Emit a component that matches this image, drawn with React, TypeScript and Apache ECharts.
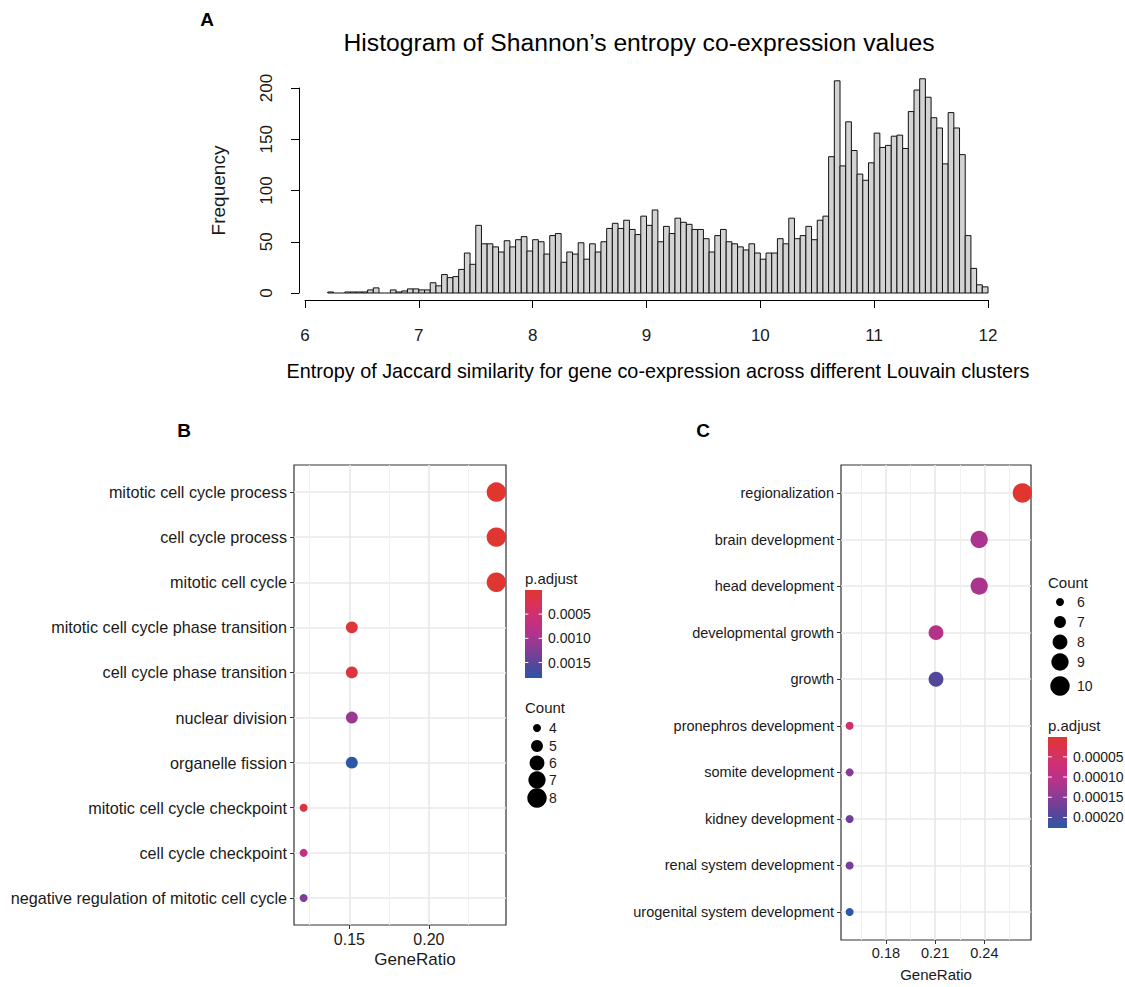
import React, { useEffect, useRef } from 'react';
import * as echarts from 'echarts';

// ---------- Panel A: histogram ----------
const histStart = 6.2;
const histBinWidth = 0.05;
const histCounts = [
  1, 0, 0, 1, 1, 1, 1, 3, 5, 0, 0, 3, 1, 2, 4, 4,
  3, 3, 10, 7, 18, 15, 16, 23, 39, 28,
  66, 48, 48, 45, 40, 51, 45, 52, 55, 41,
  52, 50, 38, 56, 58, 30, 40, 38, 49, 33,
  48, 40, 50, 63, 68, 63, 71, 62, 57, 75,
  66, 81, 50, 65, 58, 73, 69, 67, 62, 62,
  53, 40, 56, 62, 50, 48, 45, 42, 48, 39,
  33, 39, 39, 53, 48, 73, 53, 56, 65, 52,
  71, 75, 133, 207, 124, 167, 139, 116, 110, 127,
  156, 142, 144, 153, 154, 141, 177, 198, 209, 191,
  171, 161, 126, 176, 161, 135, 56, 24, 8, 6,
];
const histTitle = 'Histogram of Shannon\u2019s entropy co-expression values';
const histXTitle = 'Entropy of Jaccard similarity for gene co-expression across different Louvain clusters';
const histYTitle = 'Frequency';

// ---------- Panel B ----------
const termsB = [
  'mitotic cell cycle process',
  'cell cycle process',
  'mitotic cell cycle',
  'mitotic cell cycle phase transition',
  'cell cycle phase transition',
  'nuclear division',
  'organelle fission',
  'mitotic cell cycle checkpoint',
  'cell cycle checkpoint',
  'negative regulation of mitotic cell cycle',
];
const geneRatioB = ['8/33', '8/33', '8/33', '5/33', '5/33', '5/33', '5/33', '4/33', '4/33', '4/33'];
const padjB = [1.1e-6, 2.4e-5, 1.9e-5, 8.6e-5, 9.5e-5, 1.09e-3, 1.82e-3, 1.31e-4, 6.9e-4, 1.27e-3];
const countBreaksB = [4, 5, 6, 7, 8];
const padjTicksB = [0.0005, 0.001, 0.0015];
const ratioTicksB = [0.15, 0.2];

// ---------- Panel C ----------
const termsC = [
  'regionalization',
  'brain development',
  'head development',
  'developmental growth',
  'growth',
  'pronephros development',
  'somite development',
  'kidney development',
  'renal system development',
  'urogenital system development',
];
const geneRatioC = ['10/38', '9/38', '9/38', '8/38', '8/38', '6/38', '6/38', '6/38', '6/38', '6/38'];
const padjC = [1.0e-6, 1.18e-4, 1.18e-4, 1.08e-4, 1.96e-4, 6.2e-5, 1.52e-4, 1.72e-4, 1.66e-4, 2.26e-4];
const countBreaksC = [6, 7, 8, 9, 10];
const padjTicksC = [0.00005, 0.0001, 0.00015, 0.0002];
const ratioTicksC = [0.18, 0.21, 0.24];

// ---------- styling ----------
const FONT = '"Liberation Sans", Arial, Helvetica, sans-serif';
const TXT = '#1a1a1a';
const padjColors = ['#E0362F', '#D8325A', '#CB2F7A', '#B0348C', '#873C96', '#5A4599', '#2C56A6'];

const parseRatio = (s: string) => {
  const [a, b] = s.split('/').map(Number);
  return a / b;
};
const parseCount = (s: string) => Number(s.split('/')[0]);

function dotSize(count: number, cmin: number, cmax: number) {
  const r0 = 4;
  const r1 = 9.7;
  const t = cmax > cmin ? (count - cmin) / (cmax - cmin) : 0;
  return 2 * Math.sqrt(r0 * r0 + t * (r1 * r1 - r0 * r0));
}

function buildPanel(terms: string[], ratios: string[], padj: number[]) {
  const data = terms.map((_, i) => [parseRatio(ratios[i]), i, parseCount(ratios[i]), padj[i]]);
  const xs = data.map((d) => d[0]);
  const lo = Math.min(...xs);
  const hi = Math.max(...xs);
  const pad = (hi - lo) * 0.05;
  const counts = data.map((d) => d[2]);
  return {
    data,
    xmin: lo - pad,
    xmax: hi + pad,
    cmin: Math.min(...counts),
    cmax: Math.max(...counts),
    pmin: Math.min(...padj),
    pmax: Math.max(...padj),
  };
}

function gradient() {
  return new echarts.graphic.LinearGradient(
    0, 0, 0, 1,
    padjColors.map((c, i) => ({ offset: i / (padjColors.length - 1), color: c }))
  );
}

function colorbar(
  x: number, y: number, w: number, h: number,
  title: string, titleY: number,
  ticks: number[], pmin: number, pmax: number, digits: number, labelX: number
) {
  const els: any[] = [
    { type: 'text', x, y: titleY, style: { text: title, fontFamily: FONT, fontSize: 15, fill: TXT, align: 'left', verticalAlign: 'middle' } },
    { type: 'rect', shape: { x, y, width: w, height: h }, style: { fill: gradient() } },
  ];
  ticks.forEach((t) => {
    const ty = y + ((t - pmin) / (pmax - pmin)) * h;
    els.push({ type: 'line', shape: { x1: x, y1: ty, x2: x + w * 0.2, y2: ty }, style: { stroke: '#fff', lineWidth: 1 } });
    els.push({ type: 'line', shape: { x1: x + w * 0.8, y1: ty, x2: x + w, y2: ty }, style: { stroke: '#fff', lineWidth: 1 } });
    els.push({ type: 'text', x: labelX, y: ty, style: { text: t.toFixed(digits), fontFamily: FONT, fontSize: 14, fill: TXT, align: 'left', verticalAlign: 'middle' } });
  });
  return els;
}

function countLegend(
  titleX: number, titleY: number, dotX: number, dotYs: number[],
  breaks: number[], cmin: number, cmax: number, labelX: number
) {
  const els: any[] = [
    { type: 'text', x: titleX, y: titleY, style: { text: 'Count', fontFamily: FONT, fontSize: 15, fill: TXT, align: 'left', verticalAlign: 'middle' } },
  ];
  breaks.forEach((b, i) => {
    els.push({ type: 'circle', shape: { cx: dotX, cy: dotYs[i], r: dotSize(b, cmin, cmax) / 2 }, style: { fill: '#000' } });
    els.push({ type: 'text', x: labelX, y: dotYs[i], style: { text: String(b), fontFamily: FONT, fontSize: 14, fill: TXT, align: 'left', verticalAlign: 'middle' } });
  });
  return els;
}

export default function App() {
  const ref = useRef<HTMLDivElement>(null);

  useEffect(() => {
    if (!ref.current) return;
    const chart = echarts.init(ref.current, null, { renderer: 'svg', width: 1125, height: 987 });

    const histData = histCounts.map((c, i) => [
      histStart + i * histBinWidth,
      histStart + (i + 1) * histBinWidth,
      c,
    ]);

    const B = buildPanel(termsB, geneRatioB, padjB);
    const C = buildPanel(termsC, geneRatioC, padjC);

    const catAxis = (gridIndex: number, terms: string[], fontSize: number, margin: number) => ({
      gridIndex,
      type: 'value',
      min: -0.6,
      max: terms.length - 0.4,
      inverse: true,
      axisLine: { show: false, onZero: false },
      axisTick: { show: true, length: 4, lineStyle: { color: '#333' }, customValues: terms.map((_, i) => i) },
      axisLabel: {
        customValues: terms.map((_, i) => i),
        formatter: (v: number) => terms[Math.round(v)] ?? '',
        fontSize,
        color: TXT,
        fontFamily: FONT,
        margin,
      },
      splitLine: { show: true, lineStyle: { color: '#e8e8e8', width: 1.6 } },
    });

    const ratioAxis = (
      gridIndex: number, panel: any, ticks: number[], splitNumber: number,
      fontSize: number, margin: number, nameGap: number, nameSize: number, namePad: number[]
    ) => ({
      gridIndex,
      type: 'value',
      position: 'bottom',
      min: panel.xmin,
      max: panel.xmax,
      splitNumber,
      axisLine: { show: false, onZero: false },
      axisTick: { show: true, length: 4, lineStyle: { color: '#333' }, customValues: ticks },
      axisLabel: {
        customValues: ticks,
        formatter: (v: number) => v.toFixed(2),
        fontSize,
        color: TXT,
        fontFamily: FONT,
        margin,
      },
      splitLine: { show: true, lineStyle: { color: '#e8e8e8', width: 1.6 } },
      minorTick: { show: false, splitNumber: 2 },
      minorSplitLine: { show: true, lineStyle: { color: '#f0f0f0', width: 1 } },
      name: 'GeneRatio',
      nameLocation: 'middle',
      nameGap,
      nameTextStyle: { fontSize: nameSize, color: TXT, fontFamily: FONT, padding: namePad },
    });

    const option: any = {
      animation: false,
      backgroundColor: '#ffffff',
      textStyle: { fontFamily: FONT },
      grid: [
        { left: 305, top: 88, width: 683, height: 205 },
        { left: 294, top: 465, width: 212, height: 460, show: true, borderColor: '#333', borderWidth: 1.2, backgroundColor: '#fff' },
        { left: 841, top: 465, width: 190, height: 475, show: true, borderColor: '#333', borderWidth: 1.2, backgroundColor: '#fff' },
      ],
      xAxis: [
        {
          gridIndex: 0,
          type: 'value',
          min: 6,
          max: 12,
          interval: 1,
          offset: 7,
          axisLine: { show: true, onZero: false, lineStyle: { color: '#000', width: 1 } },
          axisTick: { show: true, length: 8, lineStyle: { color: '#000' } },
          axisLabel: { fontSize: 17, color: TXT, margin: 27, fontFamily: FONT },
          splitLine: { show: false },
        },
        ratioAxis(1, B, ratioTicksB, 2, 16, 6, 26, 17, [0, 0, 0, 30]),
        ratioAxis(2, C, ratioTicksC, 4, 14.5, 5, 27, 15, [0, 0, 0, 0]),
      ],
      yAxis: [
        {
          gridIndex: 0,
          type: 'value',
          min: 0,
          max: 200,
          interval: 50,
          offset: 6,
          axisLine: { show: true, onZero: false, lineStyle: { color: '#000', width: 1 } },
          axisTick: { show: true, length: 8, lineStyle: { color: '#000' } },
          axisLabel: { rotate: 90, fontSize: 17, color: TXT, margin: 24, fontFamily: FONT },
          splitLine: { show: false },
          name: histYTitle,
          nameLocation: 'middle',
          nameRotate: 90,
          nameGap: 71,
          nameTextStyle: { fontSize: 19, color: TXT, fontFamily: FONT },
        },
        catAxis(1, termsB, 16.2, 7),
        catAxis(2, termsC, 14.5, 7),
      ],
      visualMap: [
        { type: 'continuous', show: false, seriesIndex: 1, dimension: 3, min: B.pmin, max: B.pmax, inRange: { color: padjColors } },
        { type: 'continuous', show: false, seriesIndex: 2, dimension: 3, min: C.pmin, max: C.pmax, inRange: { color: padjColors } },
      ],
      series: [
        {
          type: 'custom',
          xAxisIndex: 0,
          yAxisIndex: 0,
          clip: false,
          encode: { x: [0, 1], y: 2 },
          data: histData,
          renderItem: (params: any, api: any) => {
            const x0 = api.value(0);
            const x1 = api.value(1);
            const c = api.value(2);
            const pTop = api.coord([x0, c]);
            const pBot = api.coord([x1, 0]);
            if (c <= 0) {
              return {
                type: 'line',
                shape: { x1: pTop[0], y1: pBot[1], x2: pBot[0], y2: pBot[1] },
                style: { stroke: '#111', lineWidth: 1 },
              };
            }
            return {
              type: 'rect',
              shape: { x: pTop[0], y: pTop[1], width: pBot[0] - pTop[0], height: pBot[1] - pTop[1] },
              style: { fill: '#d3d3d3', stroke: '#111', lineWidth: 1 },
            };
          },
        },
        {
          type: 'scatter',
          xAxisIndex: 1,
          yAxisIndex: 1,
          data: B.data,
          symbolSize: (v: number[]) => dotSize(v[2], B.cmin, B.cmax),
          itemStyle: { opacity: 1 },
          z: 5,
        },
        {
          type: 'scatter',
          xAxisIndex: 2,
          yAxisIndex: 2,
          data: C.data,
          symbolSize: (v: number[]) => dotSize(v[2], C.cmin, C.cmax),
          itemStyle: { opacity: 1 },
          z: 5,
        },
      ],
      graphic: [
        { type: 'text', x: 207, y: 19, style: { text: 'A', fontFamily: FONT, fontSize: 19, fontWeight: 'bold', fill: '#000', align: 'center', verticalAlign: 'middle' } },
        { type: 'text', x: 639, y: 42, style: { text: histTitle, fontFamily: FONT, fontSize: 24.7, fill: '#000', align: 'center', verticalAlign: 'middle' } },
        { type: 'text', x: 658, y: 371, style: { text: histXTitle, fontFamily: FONT, fontSize: 19.8, fill: '#000', align: 'center', verticalAlign: 'middle' } },
        { type: 'text', x: 184, y: 430, style: { text: 'B', fontFamily: FONT, fontSize: 19, fontWeight: 'bold', fill: '#000', align: 'center', verticalAlign: 'middle' } },
        { type: 'text', x: 703, y: 430, style: { text: 'C', fontFamily: FONT, fontSize: 19, fontWeight: 'bold', fill: '#000', align: 'center', verticalAlign: 'middle' } },
        ...colorbar(525, 590, 17, 88, 'p.adjust', 578, padjTicksB, B.pmin, B.pmax, 4, 548),
        ...countLegend(525, 707, 537, [728, 746, 763, 780, 798], countBreaksB, B.cmin, B.cmax, 549),
        ...countLegend(1048, 582, 1060, [602, 622, 642, 662, 686], countBreaksC, C.cmin, C.cmax, 1077),
        ...colorbar(1048, 737, 19, 91, 'p.adjust', 725, padjTicksC, C.pmin, C.pmax, 5, 1073),
      ],
    };

    chart.setOption(option);
    return () => chart.dispose();
  }, []);

  return (
    <div
      ref={ref}
      style={{ position: 'absolute', left: 0, top: 0, width: 1125, height: 987, background: '#fff' }}
    />
  );
}
